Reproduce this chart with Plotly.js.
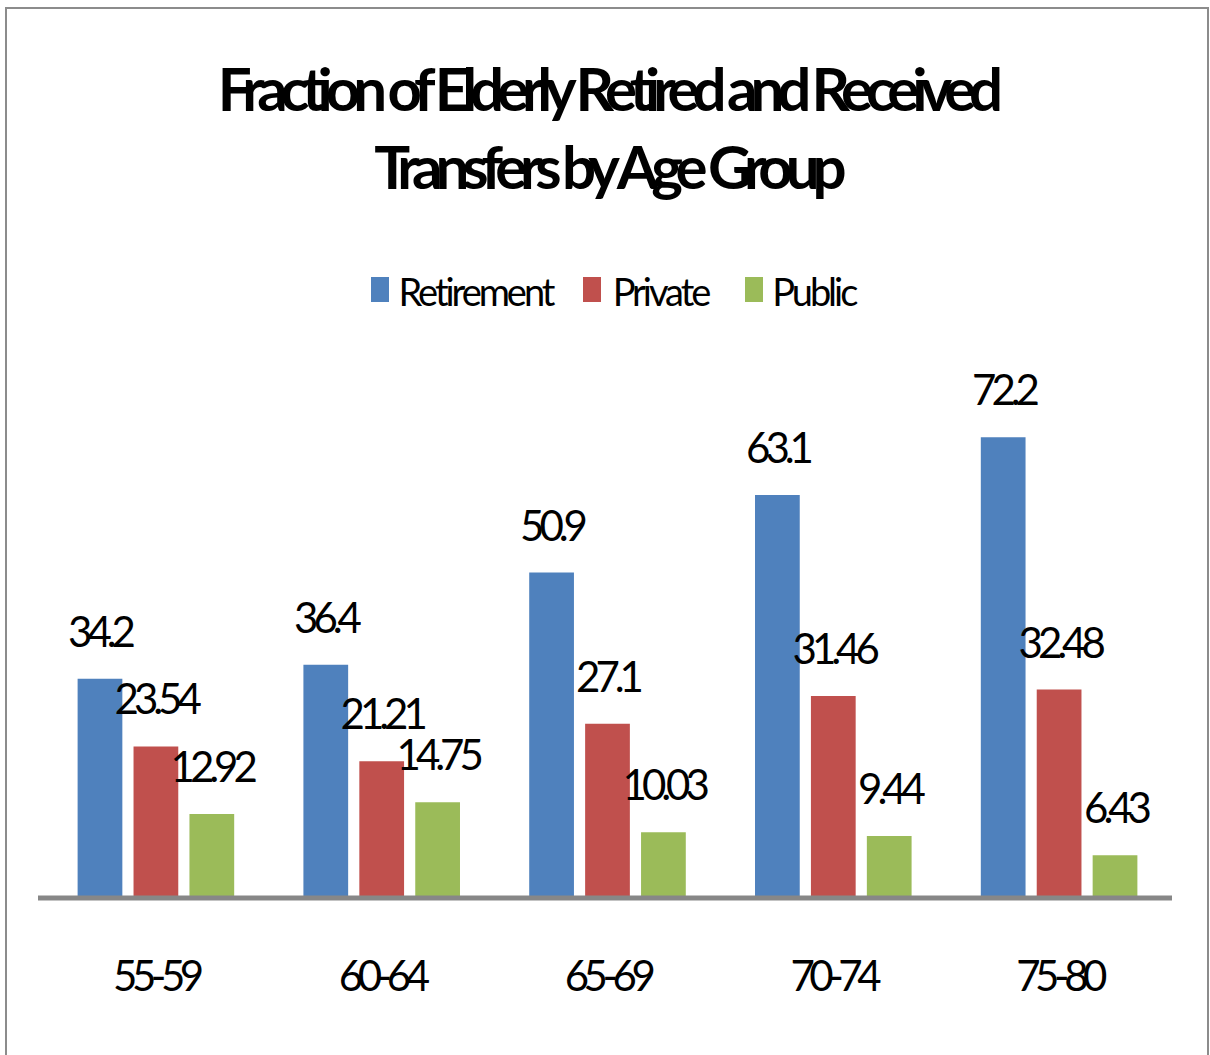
<!DOCTYPE html>
<html>
<head>
<meta charset="utf-8">
<script src="https://cdn.plot.ly/plotly-3.0.1.min.js"></script>
<style>
  html, body { margin: 0; padding: 0; background: #fff; }
  #wrap { position: relative; width: 1210px; height: 1055px; overflow: hidden; }
  #chart { position: absolute; left: 0; top: 0; width: 1210px; height: 1055px; }
  #frame { position: absolute; left: 5px; top: 7px; width: 1200px; height: 1100px;
           border: 2px solid #8c8c8c; pointer-events: none; }
  #chart text.gtitle { letter-spacing: -0.118em; }
  #chart text.annotation-text { letter-spacing: -0.12em; }
  #chart g.annotation[data-index="15"] text,
  #chart g.annotation[data-index="16"] text,
  #chart g.annotation[data-index="17"] text { letter-spacing: -0.08em; }
  #chart g.xtick text { letter-spacing: -0.13em; }
</style>
</head>
<body>
<div id="wrap">
  <div id="chart"></div>
  <div id="frame"></div>
</div>
<script>
// ---- data ----
const categories = ['55-59', '60-64', '65-69', '70-74', '75-80'];
const retirement = [34.2, 36.4, 50.9, 63.1, 72.2];
const privateTransfers = [23.54, 21.21, 27.1, 31.46, 32.48];
const publicTransfers = [12.92, 14.75, 10.03, 9.44, 6.43];
const seriesNames = ['Retirement', 'Private', 'Public'];
const seriesColors = ['#4F81BD', '#C0504D', '#9BBB59'];
const titleText = 'Fraction of Elderly Retired and Received<br>Transfers by Age Group';

// ---- layout constants ----
const W = 1210, H = 1055;
const M = { l: 43, r: 38, t: 324, b: 159 };
const plotW = W - M.l - M.r, plotH = H - M.t - M.b;
const px2x = px => (px - M.l) / plotW;
const py2y = py => (H - M.b - py) / plotH;
const bargap = 0.257, bargroupgap = 0.2;
const slot = (1 - bargap) / 3;

const FONT = 'Lato, "Open Sans", "DejaVu Sans Condensed", sans-serif';

const allSeries = [retirement, privateTransfers, publicTransfers];

const traces = allSeries.map((vals, k) => ({
  type: 'bar',
  name: seriesNames[k],
  x: categories,
  y: vals,
  marker: { color: seriesColors[k], line: { width: 0 } },
  hoverinfo: 'x+y+name',
  showlegend: false
}));

// value labels, placed above each bar
const annotations = [];
allSeries.forEach((vals, k) => {
  vals.forEach((v, i) => {
    annotations.push({
      x: i + (k - 1) * slot, y: v, xref: 'x', yref: 'y',
      text: String(v), showarrow: false,
      xanchor: 'center', yanchor: 'middle', yshift: 48,
      font: { family: FONT, size: 42, color: '#000' }
    });
  });
});

// custom legend (Excel-like tall squares)
const legendItems = [
  { sq: [371, 389], tx: 381 },
  { sq: [583, 601], tx: 600 },
  { sq: [745, 763], tx: 761 }
];
const shapes = [];
legendItems.forEach((it, k) => {
  shapes.push({
    type: 'rect', xref: 'paper', yref: 'paper',
    x0: px2x(it.sq[0]), x1: px2x(it.sq[1]), y0: py2y(302), y1: py2y(277),
    fillcolor: seriesColors[k], line: { width: 0 }
  });
  annotations.push({
    xref: 'paper', yref: 'paper', x: px2x(it.tx), y: py2y(291),
    xanchor: 'left', yanchor: 'middle', showarrow: false,
    text: seriesNames[k],
    font: { family: FONT, size: 38, color: '#000' }
  });
});

// category axis line
shapes.push({
  type: 'line', xref: 'paper', yref: 'paper',
  x0: px2x(38), x1: px2x(1172), y0: py2y(898), y1: py2y(898),
  line: { color: '#878787', width: 5 }
});

const layout = {
  width: W, height: H,
  margin: M,
  paper_bgcolor: '#fff', plot_bgcolor: '#fff',
  barmode: 'group', bargap: bargap, bargroupgap: bargroupgap,
  title: {
    text: titleText,
    x: 0.4995, xref: 'paper', xanchor: 'center',
    y: 1 - 111 / H, yref: 'container', yanchor: 'top',
    font: { family: FONT, size: 60, color: '#000', weight: 'bold' }
  },
  showlegend: false,
  xaxis: {
    type: 'category',
    showline: false, showgrid: false, zeroline: false,
    ticks: 'outside', ticklen: 44, tickcolor: 'rgba(0,0,0,0)',
    tickfont: { family: FONT, size: 42, color: '#000' }
  },
  yaxis: {
    range: [0, 90],
    visible: false, showgrid: false, zeroline: false
  },
  shapes: shapes,
  annotations: annotations
};

Plotly.newPlot('chart', traces, layout, { displayModeBar: false, staticPlot: true });
</script>
</body>
</html>
